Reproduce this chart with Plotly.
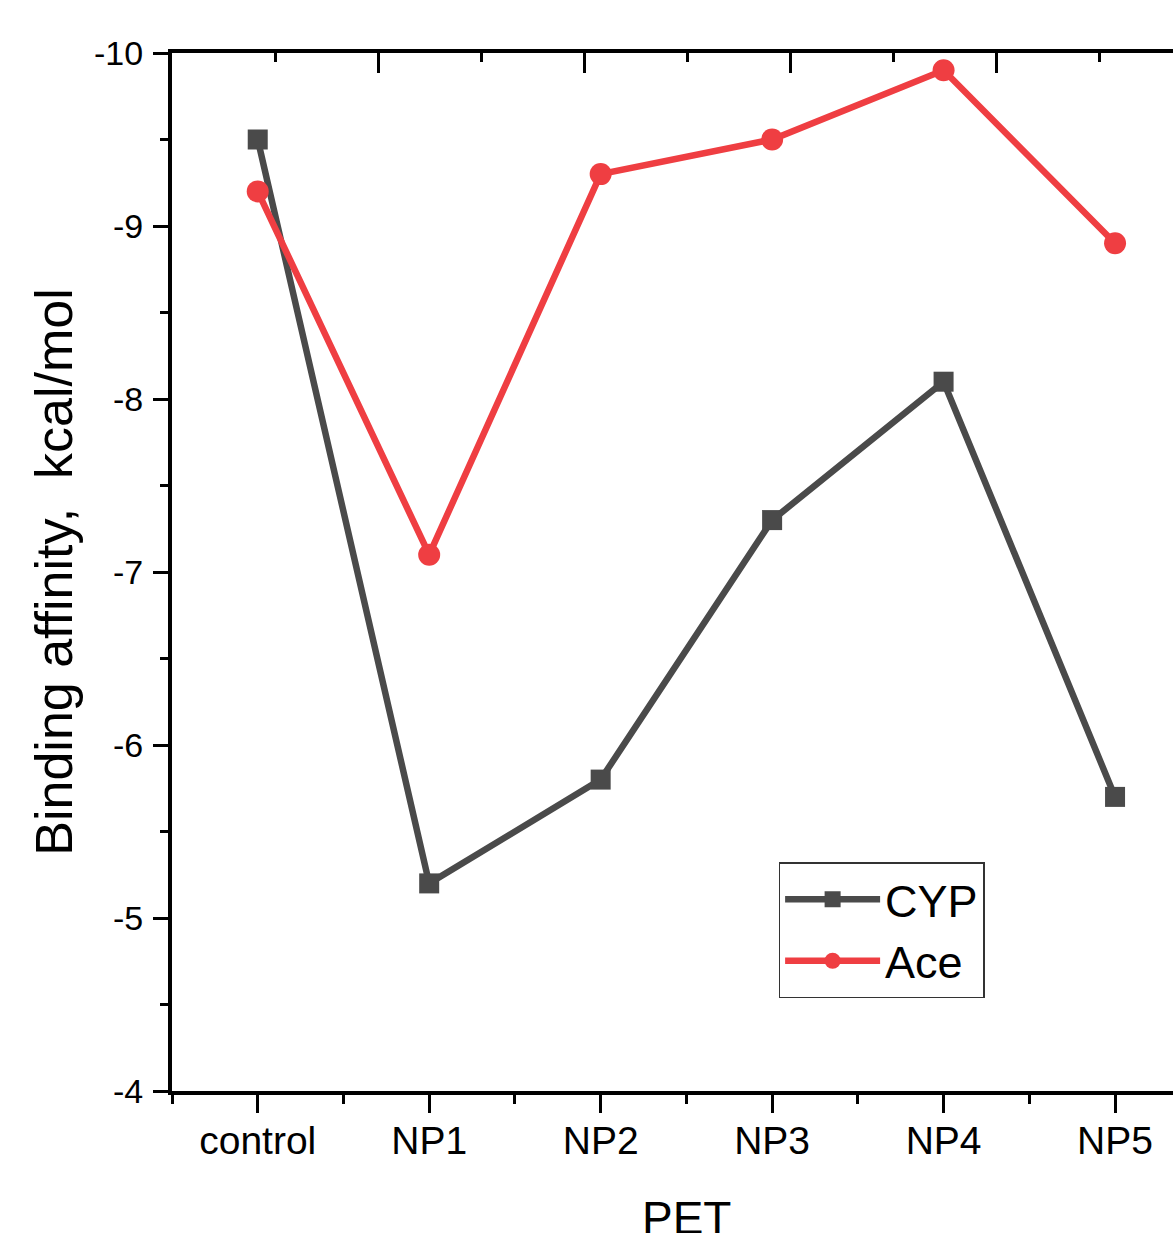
import plotly.graph_objects as go

categories = ["control", "NP1", "NP2", "NP3", "NP4", "NP5"]
cyp = [-9.5, -5.2, -5.8, -7.3, -8.1, -5.7]
ace = [-9.2, -7.1, -9.3, -9.5, -9.9, -8.9]
y_ticks = [-10, -9, -8, -7, -6, -5, -4]

pos = list(range(len(categories)))

NARROW = "Liberation Sans Narrow, Arial Narrow, Liberation Sans, Arial, sans-serif"
REG = "Liberation Sans, Arial, sans-serif"

fig = go.Figure()
fig.add_trace(go.Scatter(
    x=pos, y=cyp, name="CYP", mode="lines+markers",
    line=dict(color="#4a4a4a", width=6.5),
    marker=dict(symbol="square", size=20, color="#4a4a4a"),
))
fig.add_trace(go.Scatter(
    x=pos, y=ace, name="Ace", mode="lines+markers",
    line=dict(color="#ef3e42", width=6.5),
    marker=dict(symbol="circle", size=22, color="#ef3e42"),
))
# helper trace to anchor the top axis
fig.add_trace(go.Scatter(x=[0], y=[-10], xaxis="x2", mode="markers",
                         marker=dict(opacity=0), showlegend=False, hoverinfo="skip"))

fig.update_layout(
    width=1173, height=1233,
    margin=dict(l=172, r=0, t=53, b=142),
    paper_bgcolor="white", plot_bgcolor="white",
    showlegend=True,
    legend=dict(
        x=0.606, y=0.2206, xanchor="left", yanchor="top",
        bgcolor="white", bordercolor="#333333", borderwidth=1.5,
        font=dict(family=NARROW, size=45, color="black"),
        itemwidth=95, tracegroupgap=0,
    ),
    xaxis=dict(
        range=[-0.5, 5.338],
        tickmode="array", tickvals=pos, ticktext=categories,
        ticks="outside", ticklen=18, tickwidth=3, tickcolor="black",
        showline=True, linecolor="black", linewidth=4, mirror=False,
        showgrid=False, zeroline=False,
        tickfont=dict(family=NARROW, size=39, color="black"),
        ticklabelstandoff=-6,
        minor=dict(tickmode="linear", tick0=-0.5, dtick=1, ticks="outside",
                   ticklen=9, tickwidth=3, tickcolor="black", showgrid=False),
    ),
    xaxis2=dict(
        overlaying="x", side="top", anchor="y",
        range=[0, 4.859], tickmode="linear", tick0=0, dtick=1,
        ticks="inside", ticklen=20, tickwidth=3, tickcolor="black",
        showticklabels=False, showline=True, linecolor="black", linewidth=4,
        showgrid=False, zeroline=False,
        minor=dict(tickmode="linear", tick0=0, dtick=0.5, ticks="inside",
                   ticklen=9, tickwidth=3, tickcolor="black", showgrid=False),
    ),
    yaxis=dict(
        range=[-4, -10],
        tickmode="array", tickvals=y_ticks, ticktext=[str(v) for v in y_ticks],
        ticks="outside", ticklen=15, tickwidth=3, tickcolor="black",
        showline=True, linecolor="black", linewidth=4, mirror=False,
        showgrid=False, zeroline=False,
        tickfont=dict(family=REG, size=34, color="black"),
        ticklabelstandoff=3,
        minor=dict(tickmode="linear", tick0=-4.5, dtick=1, ticks="outside",
                   ticklen=8, tickwidth=3, tickcolor="black", showgrid=False),
        title=dict(text="Binding affinity,  kcal/mol",
                   font=dict(family=REG, size=52, color="black"), standoff=6),
    ),
    annotations=[dict(
        text="PET", xref="x", yref="paper", x=2.5, y=0, yshift=-99,
        xanchor="center", yanchor="top", showarrow=False,
        font=dict(family=NARROW, size=46, color="black"),
    )],
)

fig.write_html("out.html", config={"displayModeBar": False},
               post_script="document.body.style.margin='0';document.body.style.overflow='hidden';")
